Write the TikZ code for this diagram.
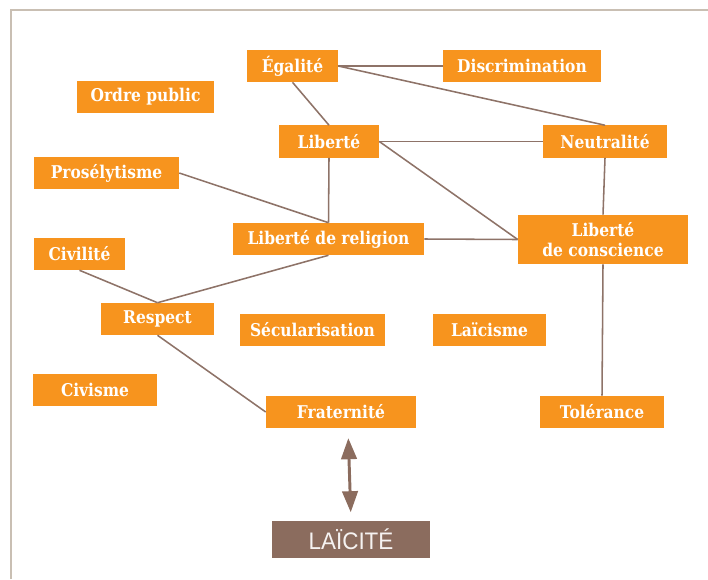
\documentclass[tikz,border=0pt]{standalone}
\usepackage{fontspec}
\usetikzlibrary{arrows.meta, positioning}
\newfontfamily\caixafont[FakeStretch=0.88]{DejaVu Serif}
\newfontfamily\titulofont[FakeStretch=0.94]{Liberation Sans}
\definecolor{laranja}{HTML}{F7941E}
\definecolor{marrom}{HTML}{8B6C5E}
\definecolor{linha}{HTML}{8E7368}
\definecolor{moldura}{HTML}{C9BFB3}

\begin{document}
\begin{tikzpicture}[x=0.025cm, y=-0.025cm,
    caixa/.style={fill=laranja, text=white, inner sep=0pt, minimum height=0.8cm,
        font=\caixafont\bfseries\fontsize{12.5}{14}\selectfont, align=center},
    liga/.style={draw=linha, line width=1.1pt},
    seta/.style={draw=marrom, line width=2.1pt, {Triangle[length=15pt,width=11pt]}-{Triangle[length=15pt,width=11pt]}}]
    \useasboundingbox (0,0) rectangle (708,579);

    % Moldura
    \draw[moldura, line width=1.1pt] (11,579) -- (11,10) -- (708,10);

    % Conceitos
    \node[caixa, minimum width=2.275cm] (egal) at (292.5,66) {Égalité};
    \node[caixa, minimum width=3.95cm] (discr) at (522,66) {Discrimination};
    \node[caixa, minimum width=3.425cm] (ordre) at (145.5,97) {Ordre public};
    \node[caixa, minimum width=2.5cm] (liberte) at (329,141.5) {Liberté};
    \node[caixa, minimum width=3.1cm] (neutr) at (605,141.5) {Neutralité};
    \node[caixa, minimum width=3.625cm] (prose) at (106.5,173) {Prosélytisme};
    \node[caixa, minimum width=4.775cm] (librel) at (328.5,239) {Liberté de religion};
    \node[caixa, minimum width=4.25cm, minimum height=1.225cm] (libcons) at (603,239.5) {Liberté\\de conscience};
    \node[caixa, minimum width=2.275cm] (civil) at (79.5,254) {Civilité};
    \node[caixa, minimum width=2.825cm] (respect) at (157.5,319) {Respect};
    \node[caixa, minimum width=3.625cm] (secul) at (312.5,330) {Sécularisation};
    \node[caixa, minimum width=2.825cm] (laicisme) at (489.5,330) {Laïcisme};
    \node[caixa, minimum width=3.1cm] (civisme) at (95,390) {Civisme};
    \node[caixa, minimum width=3.75cm] (frat) at (341,412) {Fraternité};
    \node[caixa, minimum width=3.1cm] (toler) at (602,412) {Tolérance};

    % Laicidade
    \node[fill=marrom, text=white!92!marrom, inner sep=0pt, minimum width=3.95cm, minimum height=0.925cm,
        font=\titulofont\fontsize{17}{18}\selectfont] (laicite) at (351,539.5) {LAÏCITÉ};

    % Ligações
    \draw[liga] (egal.east) -- (discr.west);
    \draw[liga] (egal.east) -- (neutr.north);
    \draw[liga] (egal.south) -- (liberte.north);
    \draw[liga] (liberte.east) -- (neutr.west);
    \draw[liga] (liberte.east) -- (libcons.west);
    \draw[liga] (liberte.south) -- (librel.north);
    \draw[liga] (prose.east) -- (librel.north);
    \draw[liga] (librel.east) -- (libcons.west);
    \draw[liga] (neutr.south) -- (libcons.north);
    \draw[liga] (libcons.south) -- (toler.north);
    \draw[liga] (civil.south) -- (respect.north);
    \draw[liga] (librel.south) -- (respect.north);
    \draw[liga] (respect.south) -- (frat.west);

    % Seta dupla
    \draw[seta, shorten <=7pt, shorten >=6pt] ([xshift=0.175cm]frat.south) -- (laicite.north);

\end{tikzpicture}
\end{document}
